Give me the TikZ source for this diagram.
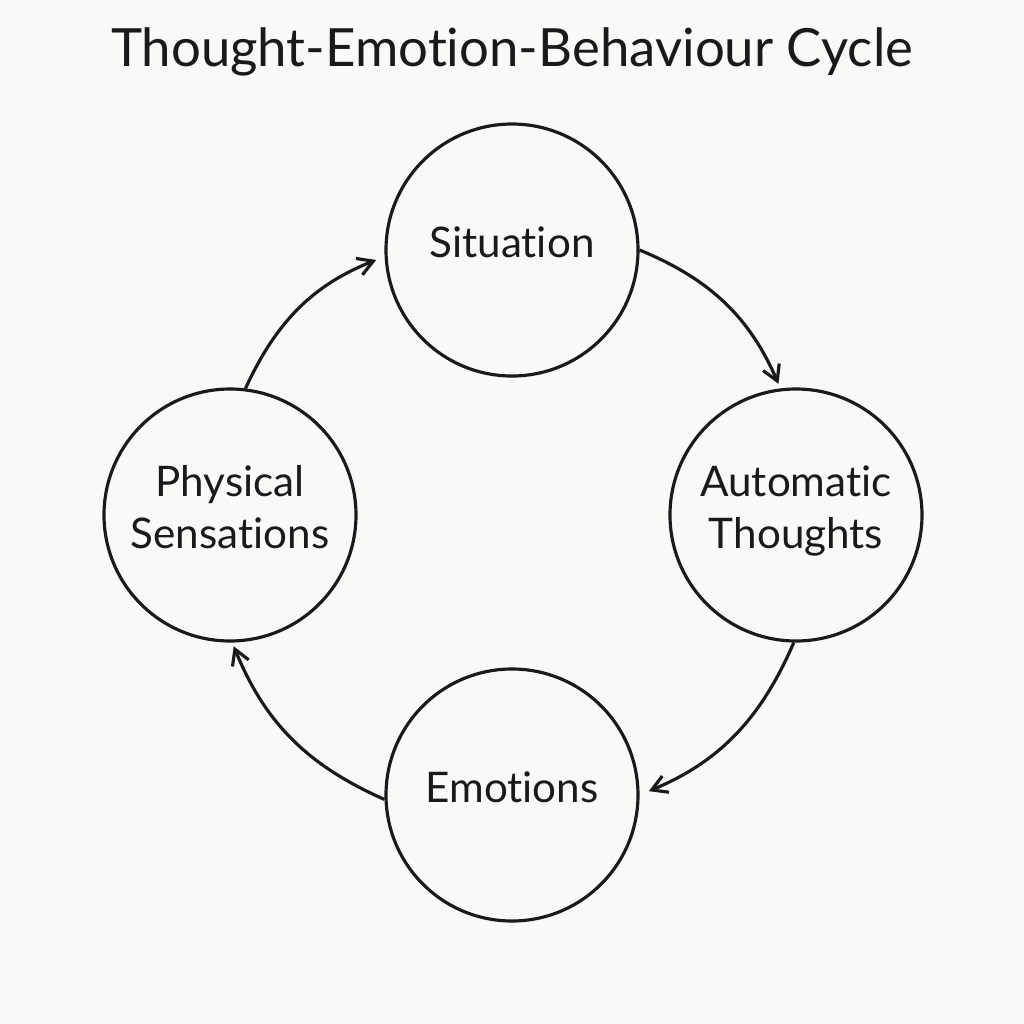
\documentclass[tikz,border=0pt]{standalone}
\usepackage{fontspec}
\usepackage{xcolor}
\usetikzlibrary{arrows.meta, positioning}
\setmainfont{Lato}[Ligatures={NoCommon}]
\definecolor{paper}{RGB}{249,249,247}
\definecolor{ink}{RGB}{26,26,26}

\begin{document}
\begin{tikzpicture}[
    stage/.style={circle, draw=ink, line width=0.9pt, minimum size=2.52cm, inner sep=0pt, align=center, text=ink, text depth=4.5pt, font=\fontsize{12}{14.8}\selectfont},
    cyc/.style={-{Straight Barb[length=4.3pt, width=5pt]}, line width=0.9pt, draw=ink},
    heading/.style={text=ink, font=\fontsize{15}{18}\selectfont}
]

% Page
\fill[paper] (0,0) rectangle (10.24,-10.24);
\useasboundingbox (0,0) rectangle (10.24,-10.24);

% Title
\node[heading] (title) at (5.12,-0.52) {Thought-Emotion-Behaviour Cycle};

% Stages
\node[stage] (sit) at (5.12,-2.50) {Situation};
\node[stage] (aut) at (7.96,-5.15) {Automatic\\Thoughts};
\node[stage] (emo) at (5.12,-7.95) {Emotions};
\node[stage] (phy) at (2.30,-5.15) {Physical\\Sensations};

% Arrows
\draw[cyc, shorten >=0.05cm] (sit.0) to[bend left=22] (aut.97);
\draw[cyc, shorten >=0.10cm] (aut.269) to[bend left=22] (emo.0);
\draw[cyc, shorten >=0.04cm] (emo.182) to[bend left=22] (phy.271);
\draw[cyc, shorten >=0.09cm] (phy.83) to[bend left=22] (sit.183);

\end{tikzpicture}
\end{document}
